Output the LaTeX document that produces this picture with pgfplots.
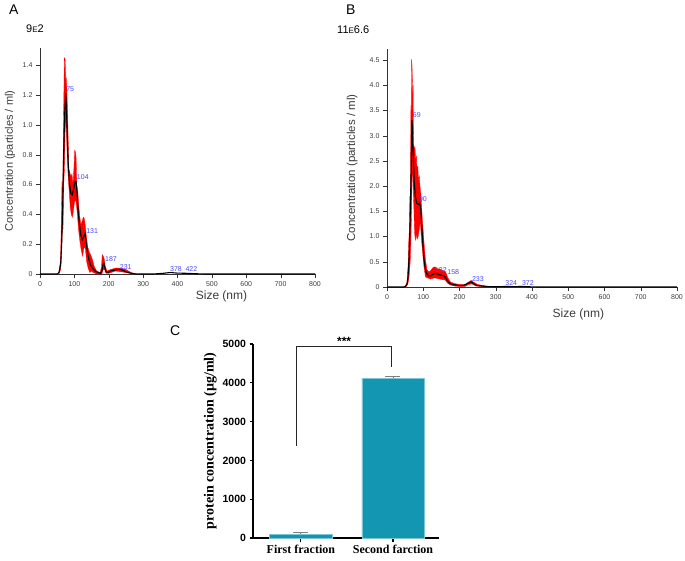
\documentclass[border=0pt]{standalone}
\usepackage{pgfplots}
\pgfplotsset{compat=1.18}
\usepackage{fontspec}
\setmainfont{Liberation Sans}
\newfontfamily\serifbf{Liberation Serif}
\definecolor{ntared}{RGB}{255,0,0}
\definecolor{peakblue}{RGB}{70,70,255}
\definecolor{barteal}{RGB}{18,150,178}
\definecolor{txtgray}{RGB}{60,60,60}

\pgfplotsset{
  nta/.style={
    scale only axis,
    anchor=south west,
    axis lines=left,
    axis line style={-, black!80},
    tick align=outside,
    major tick length=4pt,
    tick style={black!80},
    xmin=0, xmax=800,
    ymin=0,
    xtick={0,100,...,800},
    /pgf/number format/assume math mode=true,
    ticklabel style={font=\fontsize{7}{7}\selectfont, text=txtgray},
    label style={text=txtgray},
    clip=false,
  },
}
\tikzset{peak/.style={font=\fontsize{7}{7}\selectfont, text=peakblue, anchor=west, inner sep=0pt}}

\begin{document}
\begin{tikzpicture}
\path[use as bounding box] (0,0) rectangle (685pt,-560pt);

% panel letters
\node[anchor=north west, inner sep=0pt, font=\fontsize{14}{14}\selectfont] at (9pt,-5pt) {A};
\node[anchor=north west, inner sep=0pt, font=\fontsize{11}{11}\selectfont] at (26pt,-25pt) {9{\fontsize{8}{8}\selectfont E}2};
\node[anchor=north west, inner sep=0pt, font=\fontsize{14}{14}\selectfont] at (346pt,-5pt) {B};
\node[anchor=north west, inner sep=0pt, font=\fontsize{11}{11}\selectfont] at (337pt,-26pt) {11{\fontsize{8}{8}\selectfont E}6.6};
\node[anchor=north west, inner sep=0pt, font=\fontsize{14}{14}\selectfont] at (170pt,-326pt) {C};

% ---------- A ----------
\begin{axis}[nta,
  at={(40pt,-274pt)},
  width=275pt, height=226pt,
  ymax=1.515,
  ytick={0,0.2,...,1.4},
  yticklabels={0,0.2,0.4,0.6,0.8,1.0,1.2,1.4},
  xlabel={Size (nm)},
  ylabel={Concentration (particles / ml)},
  x label style={at={(axis description cs:0.66,-0.10)}, anchor=center, font=\fontsize{12}{12}\selectfont},
  y label style={at={(axis description cs:-0.109,0.5)}, anchor=center, font=\fontsize{11}{11}\selectfont},
]
% error band
\addplot[fill=ntared, draw=ntared, line width=0.3pt] coordinates {
  (55,0.01) (60,0.1) (62,0.35) (64,0.62) (66,0.5) (68,0.95) (70,1.3) (71,1.45)
  (73,1.44) (75,1.3) (76,1.32) (78,1.25) (80,1.1) (82,0.9) (84,0.7) (87,0.68)
  (90,0.65) (93,0.67) (96,0.6) (99,0.72) (101,0.83) (103,0.82) (105,0.78)
  (107,0.6) (110,0.55) (113,0.45) (116,0.38) (119,0.33) (122,0.35) (126,0.38)
  (129,0.37) (132,0.32) (135,0.25) (139,0.18) (143,0.15) (147,0.13) (152,0.1)
  (158,0.05) (165,0.02) (175,0.01) (179,0.05) (181,0.13) (184,0.12) (187,0.1)
  (190,0.05) (195,0.02) (205,0.03) (220,0.04) (235,0.04) (250,0.03) (265,0.01)
  (280,0)
  (250,0.01) (220,0.02) (200,0.005) (192,0.005) (188,0.03) (184,0.03) (180,0)
  (165,0) (155,0.01) (150,0.02) (145,0.01) (140,0.04) (136,0.08) (132,0.17)
  (128,0.18) (124,0.12) (120,0.16) (116,0.22) (112,0.3) (108,0.42) (104,0.5)
  (100,0.48) (97,0.42) (94,0.38) (91,0.4) (88,0.45) (85,0.55) (82,0.65)
  (79,0.8) (77,0.95) (75,1.05) (73,0.95) (71,0.7) (69,0.6) (67,0.3) (65,0.3)
  (62,0.1) (60,0.03) (55,0)
} -- cycle;
% mean
\addplot[black, line width=1.1pt] coordinates {
  (0,0) (50,0) (55,0.01) (60,0.06) (63,0.2) (66,0.45) (68,0.7) (70,0.92)
  (72,1.08) (75,1.21) (77,1.12) (79,0.95) (82,0.75) (86,0.6) (90,0.54)
  (94,0.53) (98,0.57) (102,0.62) (105,0.62) (108,0.54) (111,0.42) (115,0.33)
  (119,0.26) (123,0.23) (127,0.25) (131,0.27) (134,0.22) (138,0.15) (142,0.1)
  (147,0.06) (153,0.04) (160,0.02) (168,0.01) (176,0.005) (180,0.02)
  (183,0.06) (186,0.07) (189,0.04) (192,0.015) (198,0.01) (205,0.02)
  (215,0.025) (225,0.03) (235,0.03) (245,0.02) (255,0.01) (265,0.005)
  (280,0) (330,0) (360,0.005) (378,0.01) (400,0.006) (422,0.005) (450,0.002)
  (480,0) (800,0)
};
\node[peak] at (axis cs:76,1.24) {75};
\node[peak] at (axis cs:107,0.65) {104};
\node[peak] at (axis cs:134,0.29) {131};
\node[peak] at (axis cs:189,0.10) {187};
\node[peak] at (axis cs:232,0.045) {231};
\node[peak] at (axis cs:378,0.03) {378};
\node[peak] at (axis cs:423,0.03) {422};
\end{axis}

% ---------- B ----------
\begin{axis}[nta,
  at={(387pt,-287pt)},
  width=290pt, height=238pt,
  ymax=4.72,
  ytick={0,0.5,...,4.5},
  yticklabels={0,0.5,1.0,1.5,2.0,2.5,3.0,3.5,4.0,4.5},
  xlabel={Size (nm)},
  ylabel={Concentration (particles / ml)},
  x label style={at={(axis description cs:0.66,-0.113)}, anchor=center, font=\fontsize{12}{12}\selectfont},
  y label style={at={(axis description cs:-0.12,0.5)}, anchor=center, font=\fontsize{11.5}{12}\selectfont},
]
\addplot[fill=ntared, draw=ntared, line width=0.3pt] coordinates {
  (50,0.01) (55,0.08) (58,0.4) (60,0.9) (62,1.2) (63,1.8) (64,1.5) (65,2.4)
  (66,3.6) (67,3.2) (68,4.52) (69,4.4) (70,4.1) (71,3.5) (72,4.0) (73,2.8)
  (75,2.7) (77,2.8) (79,2.5) (81,2.6) (83,2.3) (85,2.4) (87,2.1) (89,2.2)
  (91,2.0) (94,1.8) (97,1.4) (100,1.1) (103,0.8) (106,0.55) (110,0.35)
  (115,0.3) (120,0.32) (126,0.38) (132,0.4) (138,0.36) (145,0.36) (152,0.33)
  (158,0.32) (163,0.28) (168,0.18) (175,0.1) (185,0.07) (200,0.05) (215,0.05)
  (225,0.1) (232,0.13) (240,0.09) (250,0.05) (265,0.03) (280,0.01) (300,0)
  (280,0.005) (260,0.01) (245,0.02) (235,0.06) (225,0.05) (215,0.01)
  (200,0.01) (185,0.02) (175,0.04) (168,0.07) (160,0.14) (150,0.15)
  (140,0.17) (130,0.18) (120,0.16) (112,0.18) (106,0.2) (102,0.4) (98,0.7)
  (95,0.95) (92,1.3) (89,1.15) (86,1.0) (83,0.95) (80,1.05) (78,0.92)
  (76,1.1) (74,1.6) (72,2.0) (70,2.6) (68,1.6) (66,0.9) (64,0.5) (62,0.3)
  (60,0.15) (57,0.05) (52,0)
} -- cycle;
\addplot[black, line width=1.1pt] coordinates {
  (0,0) (45,0) (50,0.01) (55,0.05) (58,0.2) (61,0.6) (63,1.1) (65,1.7)
  (67,2.5) (69,3.31) (71,2.95) (73,2.5) (75,2.1) (78,1.8) (82,1.66) (86,1.64)
  (90,1.67) (93,1.55) (96,1.2) (99,0.85) (102,0.55) (106,0.35) (110,0.26)
  (115,0.22) (120,0.22) (126,0.25) (132,0.27) (138,0.26) (145,0.24)
  (152,0.23) (158,0.22) (162,0.18) (167,0.12) (173,0.07) (180,0.05)
  (190,0.04) (200,0.03) (210,0.03) (220,0.06) (228,0.09) (233,0.1) (240,0.06)
  (248,0.03) (260,0.02) (275,0.01) (300,0.005) (324,0.01) (350,0.008)
  (372,0.01) (400,0.003) (420,0) (800,0)
};
\node[peak] at (axis cs:71,3.40) {69};
\node[peak] at (axis cs:88,1.74) {90};
\node[peak] at (axis cs:132,0.34) {132};
\node[peak] at (axis cs:166,0.30) {158};
\node[peak] at (axis cs:234,0.15) {233};
\node[peak] at (axis cs:326,0.08) {324};
\node[peak] at (axis cs:372,0.08) {372};
\end{axis}

% ---------- C ----------
\begin{axis}[
  scale only axis,
  anchor=south west,
  at={(253pt,-538pt)},
  width=186pt, height=194pt,
  axis lines=left,
  axis line style={-, line width=1.2pt},
  tick style={line width=1.1pt, black},
  tick align=outside,
  major tick length=3.5pt,
  xmin=-0.52, xmax=1.5,
  ymin=0, ymax=5000,
  ytick={0,1000,...,5000},
  xtick={0,1},
  xticklabels={First fraction, Second farction},
  x tick label style={font=\serifbf\bfseries\fontsize{12}{12}\selectfont},
  y tick label style={font=\bfseries\fontsize{10.5}{11}\selectfont},
  /pgf/number format/assume math mode=true,
  /pgf/number format/1000 sep={},
  ylabel={protein concentration (µg/ml)},
  y label style={at={(axis description cs:-0.23,0.5)}, anchor=center, font=\serifbf\bfseries\fontsize{14}{14}\selectfont},
  clip=false,
]
\addplot[ybar, bar width=0.674, fill=barteal, draw=barteal!55!white, line width=0.8pt,
  error bars/.cd, y dir=plus, y explicit,
  error bar style={gray, line width=0.9pt},
  error mark options={rotate=90, mark size=7.5pt, line width=1.2pt, gray}]
  coordinates {(0,100) +- (0,50) (1,4120) +- (0,40)};
\draw[line width=0.7pt, black!85] (axis cs:-0.05,2380) -- (axis cs:-0.05,4930) -- (axis cs:0.98,4930) -- (axis cs:0.98,4410);
\node[font=\bfseries\fontsize{12}{12}\selectfont, anchor=south, inner sep=0.5pt] at (axis cs:0.47,4950) {***};
\end{axis}
\end{tikzpicture}
\end{document}
